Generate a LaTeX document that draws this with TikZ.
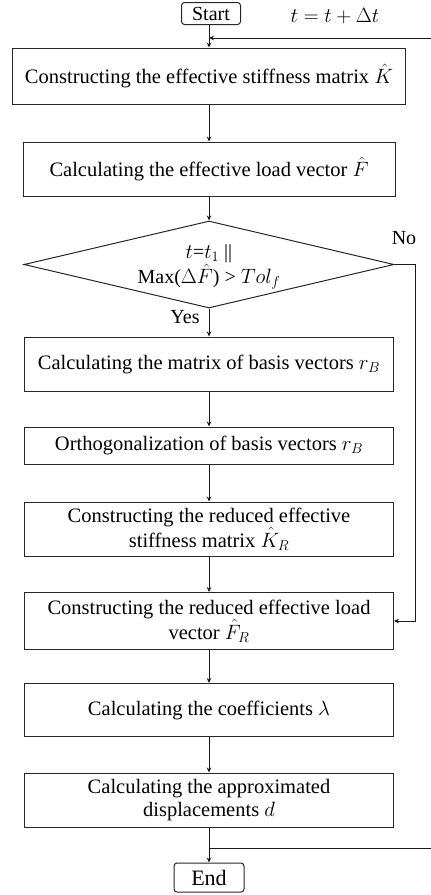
\documentclass[tikz,border=0pt]{standalone}
\usepackage{fontspec}
\setmainfont{Liberation Serif}
\usetikzlibrary{arrows.meta,shapes.geometric}
\begin{document}
\begin{tikzpicture}[x=1pt,y=-1pt,
  every node/.style={font=\fontsize{20.5}{22.5}\selectfont},
  proc/.style={draw=black!85,line width=1pt,rectangle,minimum width=369pt,inner sep=0pt,align=center},
  term/.style={draw=black!85,line width=1pt,rectangle,rounded corners=3pt,inner sep=0pt},
  flow/.style={draw=black!90,line width=1pt,-{Stealth[length=5pt,width=4.5pt]}},
  plain/.style={draw=black!90,line width=1pt}]
\useasboundingbox (0,0) rectangle (431,895);
\node[term,minimum width=59pt,minimum height=22pt,font=\fontsize{20}{22}\selectfont] (start) at (211,13.5) {Start};
\node[proc,minimum width=393pt,minimum height=56pt] (b1) at (209,76) {Constructing the effective stiffness matrix $\hat{K}$};
\node[proc,minimum width=372pt,minimum height=54pt] (b2) at (209,169) {Calculating the effective load vector $\hat{F}$};
\node[draw=black!85,line width=1pt,diamond,minimum width=370pt,minimum height=87pt,inner sep=0pt] (dia) at (209,264.5) {};
\node[align=center,font=\fontsize{20}{23}\selectfont] (diat) at (209,267) {$t$=$t_1$ ||\\Max($\Delta\hat{F}$) > $Tol_f$};
\node[proc,minimum height=54pt] (b3) at (209,364) {Calculating the matrix of basis vectors $r_B$};
\node[proc,minimum height=37pt] (b4) at (209,445.5) {Orthogonalization of basis vectors $r_B$};
\node[proc,minimum height=54pt] (b5) at (209,529) {Constructing the reduced effective\\stiffness matrix $\hat{K}_R$};
\node[proc,minimum height=57pt] (b6) at (209,621) {Constructing the reduced effective load\\vector $\hat{F}_R$};
\node[proc,minimum height=53pt] (b7) at (209,710) {Calculating the coefficients $\lambda$};
\node[proc,minimum height=54pt] (b8) at (209,800) {Calculating the approximated\\displacements $d$};
\node[term,minimum width=70pt,minimum height=29pt,font=\fontsize{22}{24}\selectfont] (end) at (209,877.5) {End};
\node[font=\fontsize{19.5}{21}\selectfont] (inc) at (335,16) {$t=t+\Delta t$};
\node[font=\fontsize{20}{22}\selectfont] (no) at (404,238) {No};
\node[font=\fontsize{20}{22}\selectfont] (yes) at (185,317) {Yes};
\coordinate (jtop) at (209,38);
\coordinate (rtop) at (431,38);
\coordinate (jbot) at (209,848);
\coordinate (rbot) at (431,848);
\draw[plain] (start.south -| jtop) -- (jtop);
\draw[flow] (jtop) -- (b1.north);
\draw[flow] (rtop) -- (jtop);
\draw[flow] (b1) -- (b2);
\draw[flow] (b2) -- (dia.north);
\draw[flow] (dia.south) -- (b3);
\draw[flow] (b3) -- (b4);
\draw[flow] (b4) -- (b5);
\draw[flow] (b5) -- (b6);
\draw[flow] (b6) -- (b7);
\draw[flow] (b7) -- (b8);
\draw[flow] (b8) -- (end);
\draw[plain] (jbot) -- (rbot);
\draw[flow] (dia.east) -- ++(21,0) |- (b6.east);
\end{tikzpicture}
\end{document}
